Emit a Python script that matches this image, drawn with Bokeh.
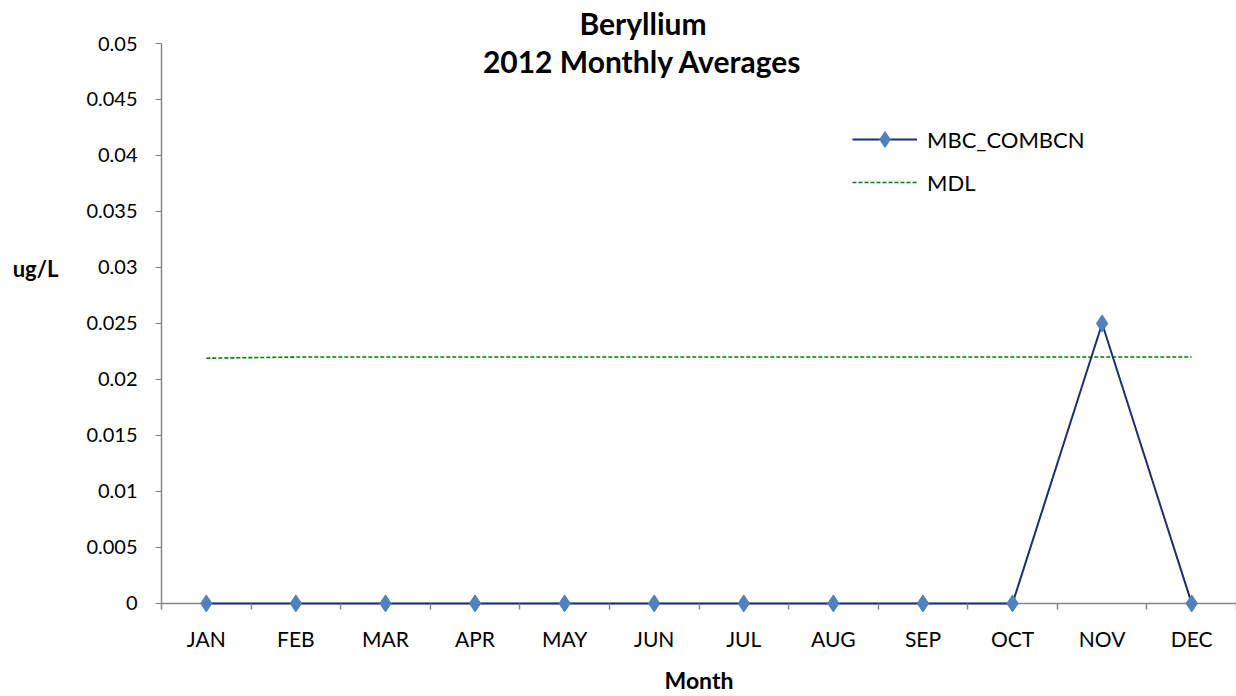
from bokeh.plotting import figure
from bokeh.models import Range1d, FixedTicker, CustomJSTickFormatter, Label, Title, Span
from bokeh.embed import file_html
from bokeh.resources import INLINE

months = ["JAN", "FEB", "MAR", "APR", "MAY", "JUN", "JUL", "AUG", "SEP", "OCT", "NOV", "DEC"]
mbc_combcn = [0, 0, 0, 0, 0, 0, 0, 0, 0, 0, 0.025, 0]
mdl = [0.0219, 0.022, 0.022, 0.022, 0.022, 0.022, 0.022, 0.022, 0.022, 0.022, 0.022, 0.022]
y_ticks = [0, 0.005, 0.01, 0.015, 0.02, 0.025, 0.03, 0.035, 0.04, 0.045, 0.05]

x_pos = [i + 0.5 for i in range(len(months))]
x_bounds = [i for i in range(len(months) + 1)]

FONT = "Lato"
AX = "#868686"

p = figure(width=1236, height=696, output_backend="svg", toolbar_location=None,
           x_range=Range1d(0, len(months)), y_range=Range1d(-0.0009, 0.05),
           min_border_left=161, min_border_right=0, min_border_top=43, min_border_bottom=82)
p.outline_line_color = None
p.xgrid.visible = False
p.ygrid.visible = False
p.background_fill_color = "white"

t = Title(text="Beryllium", align="left", offset=418, text_font=FONT, text_font_style="bold",
          text_font_size="30px", text_color="black", standoff=5)
p.add_layout(t, "above")

# horizontal axis line at zero
p.add_layout(Span(location=0, dimension="width", line_color=AX, line_width=1.5, level="underlay"))

# MDL dashed line
p.line(x_pos, mdl, line_color="#008000", line_width=1.6, line_dash="4 2", legend_label="MDL")
# series
p.line(x_pos, mbc_combcn, line_color="#1F2F6B", line_width=2, legend_label="MBC_COMBCN")
p.scatter(x_pos, mbc_combcn, marker="diamond", size=17, fill_color="#4F81BD",
          line_color="#4F81BD", legend_label="MBC_COMBCN")

# x axis
xa = p.xaxis[0]
xa.ticker = FixedTicker(ticks=x_pos, minor_ticks=x_bounds)
xa.formatter = CustomJSTickFormatter(args=dict(m=months), code="return m[Math.floor(tick)];")
xa.major_tick_out = 0
xa.major_tick_in = 0
xa.minor_tick_in = 10
xa.minor_tick_out = -4
xa.minor_tick_line_color = AX
xa.minor_tick_line_width = 1.5
xa.axis_line_color = None
xa.major_label_text_font = FONT
xa.major_label_text_font_size = "21px"
xa.major_label_text_color = "black"
xa.major_label_standoff = 12
xa.axis_label = "Month"
xa.axis_label_text_font = FONT
xa.axis_label_text_font_style = "bold"
xa.axis_label_text_font_size = "23px"
xa.axis_label_text_color = "black"
xa.axis_label_standoff = 12

# y axis
ya = p.yaxis[0]
ya.bounds = (0, 0.05)
ya.ticker = FixedTicker(ticks=y_ticks)
ya.formatter = CustomJSTickFormatter(code="return parseFloat(tick.toFixed(4)).toString();")
ya.major_tick_out = 6
ya.major_tick_in = 0
ya.minor_tick_out = 0
ya.minor_tick_in = 0
ya.major_tick_line_color = AX
ya.axis_line_color = AX
ya.axis_line_width = 1.5
ya.major_label_text_font = FONT
ya.major_label_text_font_size = "20px"
ya.major_label_text_color = "black"
ya.major_label_standoff = 18
ya.axis_label = "ug/L\n \n \n \n "
ya.axis_label_orientation = "horizontal"
ya.axis_label_text_font = FONT
ya.axis_label_text_font_style = "bold"
ya.axis_label_text_font_size = "22px"
ya.axis_label_text_line_height = 1.12
ya.axis_label_text_color = "black"
ya.axis_label_standoff = 25

p.add_layout(Label(x=5.37, y=0.04848, text="2012 Monthly Averages", text_align="center",
                   text_baseline="middle", text_font=FONT, text_font_style="bold",
                   text_font_size="30px", text_color="black"))

lg = p.legend[0]
lg.items = [lg.items[1], lg.items[0]]
lg.location = (691, 411)
lg.border_line_color = None
lg.background_fill_alpha = 0
lg.label_text_font = FONT
lg.label_text_font_size = "22px"
lg.label_text_color = "black"
lg.glyph_width = 65
lg.glyph_height = 40
lg.label_height = 40
lg.spacing = 3
lg.padding = 8
lg.label_standoff = 10

open("out.html", "w").write(file_html(p, INLINE))
